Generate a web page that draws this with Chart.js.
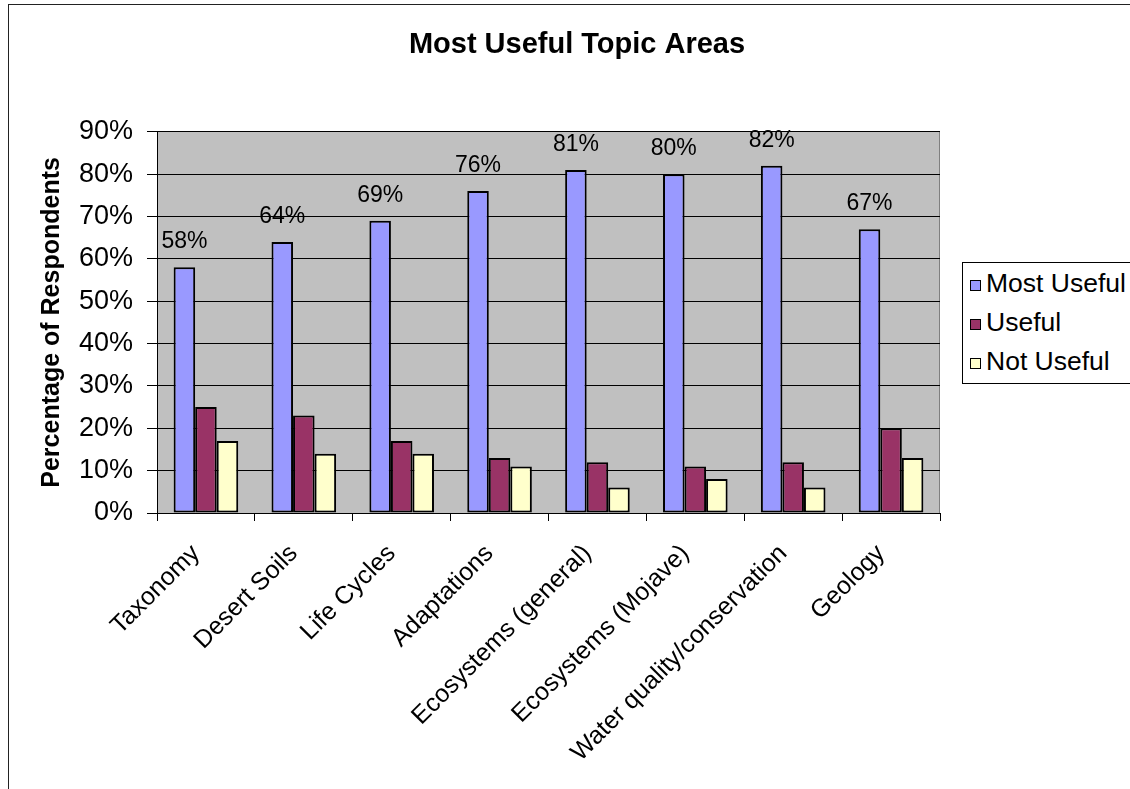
<!DOCTYPE html>
<html>
<head>
<meta charset="utf-8">
<script src="https://cdn.jsdelivr.net/npm/chart.js@4/dist/chart.umd.min.js"></script>
<style>
  html, body { margin: 0; padding: 0; background: #fff; }
  #wrap { position: relative; width: 1130px; height: 789px; overflow: hidden; }
  #frame { position: absolute; left: 8px; top: 4px; width: 1200px; height: 900px; border: 1px solid #222; }
  #chart { position: absolute; left: 0; top: 0; }
  #legend { position: absolute; left: 962px; top: 262px; width: 200px; height: 119px; border: 1px solid #000;
    background: #fff; font-family: 'Liberation Sans', Arial, sans-serif; font-size: 26.5px; color: #000; padding-top: 1px; }
  #legend div { height: 39px; line-height: 39px; white-space: nowrap; }
  #legend span.sw { display: inline-block; width: 9px; height: 9px; border: 1px solid #000; margin: 0 5px 0 7px; vertical-align: 1px; }
</style>
</head>
<body>
<div id="wrap">
  <div id="frame"></div>
  <canvas id="chart" width="1130" height="789"></canvas>
  <div id="legend"></div>
</div>
<script>
var topics = ['Taxonomy', 'Desert Soils', 'Life Cycles', 'Adaptations', 'Ecosystems (general)',
    'Ecosystems (Mojave)', 'Water quality/conservation', 'Geology'];
var mostUseful = [58, 64, 69, 76, 81, 80, 82, 67];
var useful = [25, 23, 17, 13, 12, 11, 12, 20];
var notUseful = [17, 14, 14, 11, 6, 8, 6, 13];
var seriesNames = ['Most Useful', 'Useful', 'Not Useful'];
var seriesColors = ['#9999FF', '#993366', '#FFFFCC'];

var FONT = "'Liberation Sans', Arial, sans-serif";

// legend as plain html
var legendEl = document.getElementById('legend');
seriesNames.forEach(function (name, i) {
    var row = document.createElement('div');
    row.innerHTML = '<span class="sw" style="background:' + seriesColors[i] + '"></span>' + name;
    legendEl.appendChild(row);
});

var plotBg = {
    id: 'plotBg',
    afterLayout: function (chart) {
        // center the title over the whole picture, not just the plot
        var t = chart.titleBlock;
        if (t) { t.left = 24; t.right = 1130; t.width = 1106; }
    },
    beforeDraw: function (chart) {
        var a = chart.chartArea, ctx = chart.ctx;
        ctx.save();
        ctx.fillStyle = '#C0C0C0';
        ctx.fillRect(a.left, a.top, a.right - a.left, a.bottom - a.top);
        ctx.strokeStyle = '#808080';
        ctx.lineWidth = 1;
        ctx.beginPath();
        ctx.moveTo(a.right - 0.5, a.top);
        ctx.lineTo(a.right - 0.5, a.bottom);
        ctx.stroke();
        ctx.restore();
    }
};

var valueLabels = {
    id: 'valueLabels',
    afterDatasetsDraw: function (chart) {
        var ctx = chart.ctx;
        var meta = chart.getDatasetMeta(0);
        ctx.save();
        ctx.font = '23px ' + FONT;
        ctx.fillStyle = '#000';
        ctx.textAlign = 'center';
        ctx.textBaseline = 'alphabetic';
        meta.data.forEach(function (bar, i) {
            ctx.fillText(mostUseful[i] + '%', bar.x, bar.y - 19);
        });
        ctx.restore();
    }
};

var ctx = document.getElementById('chart').getContext('2d');
var chart = new Chart(ctx, {
    type: 'bar',
    data: {
        labels: topics,
        datasets: [mostUseful, useful, notUseful].map(function (vals, i) {
            return {
                label: seriesNames[i],
                data: vals,
                backgroundColor: seriesColors[i],
                borderColor: '#000',
                borderWidth: 2,
                borderSkipped: false,
                categoryPercentage: 0.66,
                barPercentage: 1.0
            };
        })
    },
    options: {
        responsive: false,
        animation: false,
        layout: { padding: { left: 0, right: 190, top: 0, bottom: 0 } },
        scales: {
            x: {
                grid: { drawOnChartArea: false, color: '#000', tickLength: 8, offset: true },
                border: { color: '#000', width: 1 },
                ticks: {
                    color: '#000', font: { family: FONT, size: 25 },
                    minRotation: 45, maxRotation: 45, autoSkip: false,
                    padding: 18, labelOffset: -10
                },
                afterFit: function (s) { s.height = 276; }
            },
            y: {
                min: 0, max: 90,
                grid: { color: '#000', tickLength: 10 },
                border: { color: '#000', width: 1 },
                ticks: {
                    stepSize: 10, color: '#000', padding: 14,
                    font: { family: FONT, size: 27 },
                    callback: function (v) { return v + '%'; }
                },
                title: {
                    display: true, text: 'Percentage of Respondents', color: '#000',
                    font: { family: FONT, size: 25, weight: 'bold' },
                    padding: { top: 37, bottom: 0 }
                },
                afterFit: function (s) { s.width = 157; }
            }
        },
        plugins: {
            legend: { display: false },
            tooltip: { enabled: false },
            title: {
                display: true, text: 'Most Useful Topic Areas', color: '#000',
                font: { family: FONT, size: 29, weight: 'bold' },
                padding: { top: 28, bottom: 69 }
            }
        }
    },
    plugins: [plotBg, valueLabels]
});
</script>
</body>
</html>
